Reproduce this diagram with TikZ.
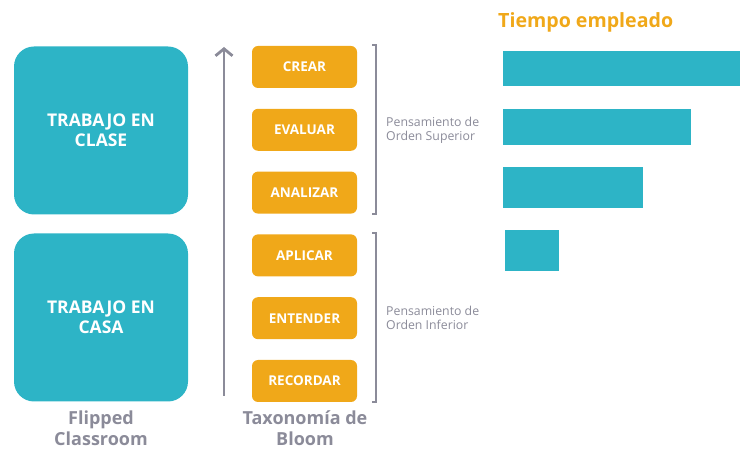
\documentclass[tikz,border=0pt]{standalone}
\usepackage{fontspec}
\setmainfont{Open Sans}
\usepackage{xcolor}
\usetikzlibrary{positioning, arrows.meta}

\definecolor{teal}{HTML}{2DB4C6}
\definecolor{gold}{HTML}{F0A819}
\definecolor{slate}{HTML}{8B8B99}

\begin{document}
\begin{tikzpicture}[x=1pt, y=-1pt, node distance=20.4pt,
	bigbox/.style={fill=teal, rounded corners=20pt, minimum width=174pt, minimum height=168pt, align=center, text=white, font=\bfseries\fontsize{17.5}{20}\selectfont},
	level/.style={fill=gold, rounded corners=6pt, minimum width=105pt, minimum height=42pt, text=white, font=\bfseries\fontsize{13.5}{15}\selectfont},
	bar/.style={fill=teal, anchor=north west, inner sep=0pt},
	caption/.style={text=slate, align=center, font=\bfseries\fontsize{18}{21}\selectfont},
	note/.style={text=slate, align=left, anchor=west, inner sep=0pt, font=\fontsize{12.3}{14}\selectfont}]
	\useasboundingbox (0,0) rectangle (740,449);
	
	% flipped classroom
	\node[bigbox] (clase) at (101,130.5) {TRABAJO EN\\CLASE};
	\node[bigbox] (casa) at (101,317.5) {TRABAJO EN\\CASA};
	\node[caption] (flipped) at (101,428.5) {Flipped\\Classroom};
	
	% taxonomia
	\node[level] (crear) at (304.5,67) {CREAR};
	\node[level, below=of crear] (evaluar) {EVALUAR};
	\node[level, below=of evaluar] (analizar) {ANALIZAR};
	\node[level, below=of analizar] (aplicar) {APLICAR};
	\node[level, below=of aplicar] (entender) {ENTENDER};
	\node[level, below=of entender] (recordar) {RECORDAR};
	\node[caption] (bloom) at (305,428.5) {Taxonomía de\\Bloom};
	
	\coordinate (abajo) at (224,396);
	\coordinate (arriba) at (224,47);
	\draw[slate, line width=2.8pt, -{Straight Barb[length=7pt, width=17pt]}] (abajo) -- (arriba);
	
	% corchetes
	\coordinate (sup1) at (372,45);
	\coordinate (sup2) at (372,214);
	\coordinate (inf1) at (372,233);
	\coordinate (inf2) at (372,402);
	\draw[slate, line width=2pt] (sup1) -- ++(4,0) -- ++(0,169) -- (sup2);
	\draw[slate, line width=2pt] (inf1) -- ++(4,0) -- ++(0,169) -- (inf2);
	\node[note] (superior) at (386,130) {Pensamiento de\\Orden Superior};
	\node[note] (inferior) at (386,318) {Pensamiento de\\Orden Inferior};
	
	% tiempo
	\node[text=gold, anchor=west, inner sep=0pt, font=\bfseries\fontsize{19.6}{22}\selectfont] (tiempo) at (498,22) {Tiempo empleado};
	\node[bar, minimum width=237pt, minimum height=35pt] (bar1) at (503,51) {};
	\node[bar, minimum width=188pt, minimum height=36pt] (bar2) at (503,109) {};
	\node[bar, minimum width=140pt, minimum height=41pt] (bar3) at (503,167) {};
	\node[bar, minimum width=54pt, minimum height=41pt] (bar4) at (505,230) {};
\end{tikzpicture}
\end{document}
